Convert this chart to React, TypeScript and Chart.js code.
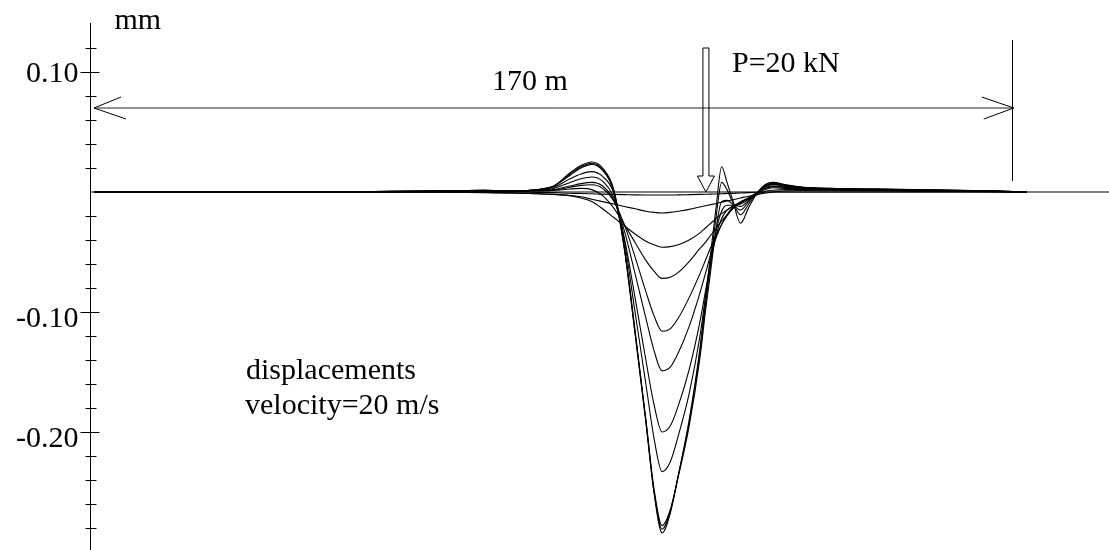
import { useEffect, useRef } from 'react';
import { Chart, registerables } from 'chart.js';

Chart.register(...registerables);

// Position along the track (m)
const xPositions = [0, 40, 55, 65, 72, 78, 82, 85, 88, 90, 92, 94, 96, 98, 100, 102, 103.5, 105, 106.5, 108, 110, 112, 113, 114, 115, 116, 117, 118, 119.5, 121, 122.7, 124, 125.5, 128, 131, 136, 145, 155, 165, 172.4];

// Displacement snapshots (mm)
const curve0 = [0, 0, 0, 0, 0, 0, -0.0003, -0.0005, -0.001, -0.0012, -0.0015, -0.0018, -0.002, -0.0022, -0.0024, -0.0025, -0.0025, -0.0025, -0.0025, -0.0024, -0.0022, -0.002, -0.0019, -0.0018, -0.0016, -0.0015, -0.0013, -0.0011, -0.0008, -0.0005, -0.0002, 0, 0, 0, 0, 0, 0, 0, 0, 0];
const curve1 = [0, 0, 0, -0.0002, -0.0005, -0.001, -0.0015, -0.002, -0.003, -0.004, -0.006, -0.008, -0.01, -0.012, -0.014, -0.016, -0.017, -0.0175, -0.017, -0.016, -0.0145, -0.0125, -0.0115, -0.0105, -0.0095, -0.0085, -0.0075, -0.0065, -0.005, -0.0035, -0.002, -0.001, 0, 0.001, 0.0012, 0.001, 0.0008, 0.0005, 0.0003, 0];
const curve2 = [0, 0, 0, 0, -0.0003, -0.0008, -0.0015, -0.002, -0.003, -0.005, -0.008, -0.014, -0.021, -0.028, -0.035, -0.041, -0.044, -0.046, -0.0455, -0.044, -0.04, -0.034, -0.03, -0.026, -0.022, -0.018, -0.015, -0.012, -0.008, -0.005, -0.002, 0.0005, 0.0015, 0.002, 0.002, 0.0016, 0.0012, 0.0008, 0.0004, 0];
const curve3 = [0, 0, 0.0001, 0.0003, 0.0004, 0.0005, 0.0008, 0.0012, 0.0025, 0.003, 0.002, -0.003, -0.013, -0.027, -0.042, -0.057, -0.066, -0.072, -0.071, -0.067, -0.058, -0.047, -0.042, -0.036, -0.03, -0.024, -0.019, -0.014, -0.009, -0.005, -0.001, 0.002, 0.0035, 0.003, 0.0025, 0.002, 0.0015, 0.001, 0.0005, 0];
const curve4 = [0, 0, 0.0002, 0.0004, 0.0005, 0.0006, 0.001, 0.0016, 0.004, 0.0055, 0.006, 0.003, -0.007, -0.027, -0.054, -0.083, -0.103, -0.116, -0.114, -0.105, -0.088, -0.068, -0.057, -0.046, -0.036, -0.027, -0.02, -0.014, -0.009, -0.005, 0, 0.003, 0.0045, 0.0037, 0.0028, 0.0022, 0.0017, 0.0012, 0.0006, 0];
const curve5 = [0, 0, 0.0002, 0.0005, 0.0007, 0.0008, 0.0012, 0.002, 0.005, 0.007, 0.008, 0.005, -0.006, -0.032, -0.068, -0.105, -0.132, -0.149, -0.146, -0.134, -0.112, -0.084, -0.068, -0.052, -0.038, -0.027, -0.019, -0.013, -0.009, -0.005, 0, 0.0035, 0.005, 0.004, 0.003, 0.0023, 0.0018, 0.0013, 0.0007, 0];
const curve6 = [0, 0, 0.0003, 0.0006, 0.0008, 0.001, 0.0015, 0.003, 0.008, 0.011, 0.0125, 0.009, -0.004, -0.038, -0.088, -0.14, -0.177, -0.2, -0.195, -0.178, -0.148, -0.108, -0.083, -0.058, -0.036, -0.022, -0.015, -0.012, -0.01, -0.006, 0, 0.004, 0.006, 0.0045, 0.0033, 0.0025, 0.0019, 0.0014, 0.0008, 0];
const curve7 = [0, 0, 0.0004, 0.0008, 0.001, 0.001, 0.002, 0.004, 0.011, 0.015, 0.017, 0.013, 0, -0.04, -0.1, -0.16, -0.205, -0.233, -0.225, -0.203, -0.168, -0.12, -0.088, -0.058, -0.032, -0.016, -0.011, -0.011, -0.012, -0.007, 0, 0.0045, 0.0065, 0.005, 0.0035, 0.0027, 0.002, 0.0015, 0.0008, 0];
const curve8 = [0, 0, 0.0005, 0.001, 0.0015, 0.001, 0.002, 0.005, 0.014, 0.02, 0.023, 0.018, 0.001, -0.047, -0.118, -0.19, -0.247, -0.278, -0.265, -0.237, -0.195, -0.138, -0.1, -0.065, -0.03, -0.008, -0.007, -0.01, -0.015, -0.008, 0, 0.005, 0.007, 0.005, 0.0037, 0.0028, 0.0022, 0.0016, 0.001, 0];
const curve9 = [0, 0, 0.0005, 0.001, 0.0015, 0.001, 0.002, 0.005, 0.015, 0.021, 0.024, 0.019, 0.002, -0.046, -0.117, -0.192, -0.25, -0.281, -0.266, -0.236, -0.192, -0.133, -0.095, -0.058, -0.02, 0.008, 0.002, -0.008, -0.019, -0.01, 0, 0.005, 0.0075, 0.0055, 0.004, 0.003, 0.0024, 0.0017, 0.001, 0];
const curve10 = [0, 0, 0.0005, 0.001, 0.0015, 0.001, 0.002, 0.005, 0.016, 0.022, 0.025, 0.02, 0.003, -0.045, -0.115, -0.19, -0.25, -0.284, -0.268, -0.236, -0.19, -0.13, -0.09, -0.05, -0.012, 0.021, 0.008, -0.006, -0.026, -0.013, 0, 0.006, 0.008, 0.006, 0.004, 0.003, 0.0025, 0.0018, 0.001, 0];

const curves = [curve0, curve1, curve2, curve3, curve4, curve5, curve6, curve7, curve8, curve9, curve10];

// Axis
const xMin = -0.74;
const xMax = 187.6;
const yMin = -0.2983;
const yMax = 0.14;
const yTickValues = [0.12, 0.1, 0.08, 0.06, 0.04, 0.02, -0.02, -0.04, -0.06, -0.08, -0.1, -0.12, -0.14, -0.16, -0.18, -0.2, -0.22, -0.24, -0.26, -0.28];
const yLabelValues = [0.1, -0.1, -0.2];
const yLabelTexts = ['0.10', '-0.10', '-0.20'];
const unitLabel = 'mm';

// Annotations
const spanStart = 0;
const spanEnd = 170;
const spanLabel = '170 m';
const loadPosition = 113.1;
const loadLabel = 'P=20 kN';
const noteLines = ['displacements', 'velocity=20 m/s'];

const FONT = '30px "Liberation Serif", "Times New Roman", serif';

const overlayPlugin = {
  id: 'overlay',
  afterDraw(chart: any) {
    const ctx = chart.ctx as CanvasRenderingContext2D;
    const xs = chart.scales.x;
    const ys = chart.scales.y;
    const area = chart.chartArea;
    ctx.save();
    ctx.strokeStyle = '#000';
    ctx.fillStyle = '#000';
    ctx.lineWidth = 1;

    // y axis line
    const ax = area.left + 0.5;
    ctx.beginPath();
    ctx.moveTo(ax, 23);
    ctx.lineTo(ax, 550);
    ctx.stroke();

    // ticks
    yTickValues.forEach((v) => {
      const py = Math.round(ys.getPixelForValue(v)) + 0.5;
      const major = yLabelValues.some((l) => Math.abs(l - v) < 1e-9);
      ctx.beginPath();
      ctx.moveTo(ax - (major ? 10 : 5), py);
      ctx.lineTo(ax + (major ? 9 : 6), py);
      ctx.stroke();
    });

    ctx.font = FONT;
    ctx.textBaseline = 'alphabetic';
    ctx.textAlign = 'right';
    yLabelValues.forEach((v, i) => {
      const py = ys.getPixelForValue(v);
      ctx.fillText(yLabelTexts[i], ax - 12, py + (v > 0 ? 10 : 15));
    });

    ctx.textAlign = 'left';
    ctx.fillText(unitLabel, ax + 24, 29);

    // dimension line
    const x0 = xs.getPixelForValue(spanStart);
    const x1 = xs.getPixelForValue(spanEnd);
    const dy = 108;
    ctx.strokeStyle = '#222';
    ctx.beginPath();
    ctx.moveTo(x0, dy);
    ctx.lineTo(x1, dy);
    ctx.stroke();
    ctx.strokeStyle = '#000';
    ctx.beginPath();
    ctx.moveTo(x0 + 27, dy - 11);
    ctx.lineTo(x0, dy);
    ctx.lineTo(x0 + 32, dy + 11);
    ctx.moveTo(x1 - 32, dy - 11);
    ctx.lineTo(x1, dy);
    ctx.lineTo(x1 - 30, dy + 11);
    ctx.stroke();
    ctx.beginPath();
    ctx.moveTo(Math.round(x1) - 1.5, 40);
    ctx.lineTo(Math.round(x1) - 1.5, 181);
    ctx.stroke();
    ctx.fillText(spanLabel, 492, 90);

    // load arrow
    const px = xs.getPixelForValue(loadPosition);
    const tipY = ys.getPixelForValue(0);
    ctx.beginPath();
    ctx.moveTo(px - 3, 48);
    ctx.lineTo(px - 3, tipY - 16);
    ctx.lineTo(px - 8.5, tipY - 16);
    ctx.lineTo(px, tipY);
    ctx.lineTo(px + 8.5, tipY - 16);
    ctx.lineTo(px + 3, tipY - 16);
    ctx.lineTo(px + 3, 48);
    ctx.closePath();
    ctx.stroke();
    ctx.fillText(loadLabel, 732, 72);

    // notes
    ctx.fillText(noteLines[0], 246, 379);
    ctx.fillText(noteLines[1], 245, 414);
    ctx.restore();
  },
};

export default function App() {
  const canvasRef = useRef<HTMLCanvasElement | null>(null);

  useEffect(() => {
    if (!canvasRef.current) return;
    const datasets: any[] = [
      {
        data: [
          { x: xMin, y: 0 },
          { x: xMax, y: 0 },
        ],
        borderColor: '#000',
        borderWidth: 1,
        pointRadius: 0,
        fill: false,
      },
    ];
    curves.forEach((c) => {
      datasets.push({
        data: xPositions.map((x, i) => ({ x, y: c[i] })),
        borderColor: '#000',
        borderWidth: 1.1,
        pointRadius: 0,
        fill: false,
        cubicInterpolationMode: 'monotone',
      });
    });
    const chart = new Chart(canvasRef.current, {
      type: 'line',
      data: { datasets },
      options: {
        animation: false,
        responsive: false,
        events: [],
        layout: { padding: { left: 90, top: 24, right: 0, bottom: 0 } },
        scales: {
          x: { type: 'linear', min: xMin, max: xMax, display: false },
          y: { type: 'linear', min: yMin, max: yMax, display: false },
        },
        plugins: { legend: { display: false }, tooltip: { enabled: false } },
      },
      plugins: [overlayPlugin],
    });
    return () => chart.destroy();
  }, []);

  return (
    <div style={{ position: 'absolute', left: 0, top: 0, width: 1109, height: 550, background: '#fff' }}>
      <canvas ref={canvasRef} width={1109} height={550} style={{ display: 'block' }} />
    </div>
  );
}
